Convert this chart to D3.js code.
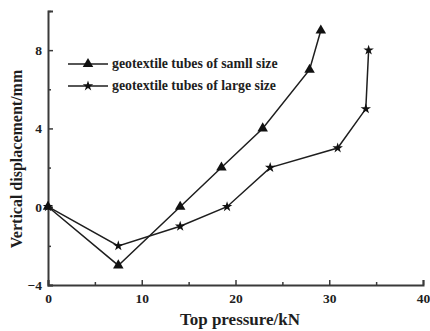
<!DOCTYPE html>
<html>
<head>
<meta charset="utf-8">
<script src="https://cdn.jsdelivr.net/npm/d3@7"></script>
<style>
  html, body { margin: 0; padding: 0; background: #fff; }
  svg { display: block; }
  text { font-family: "Liberation Serif", "Times New Roman", serif; font-weight: bold; }
</style>
</head>
<body>
<svg id="chart" width="430" height="331"></svg>
<script>
// Load (kN) vs. vertical displacement (mm) for the two tube sizes
const smallPressure = [0, 7.5, 14.1, 18.5, 22.9, 27.9, 29.1];
const smallDisp     = [0, -3, 0, 2, 4, 7, 9];
const largePressure = [0, 7.5, 14.1, 19.1, 23.7, 30.9, 33.9, 34.2];
const largeDisp     = [0, -2, -1, 0, 2, 3, 5, 8];
const seriesNames   = ["geotextile tubes of samll size", "geotextile tubes of large size"];
const xMajorTicks   = [0, 10, 20, 30, 40];
const xMinorTicks   = [5, 15, 25, 35];
const yMajorTicks   = [-4, 0, 4, 8];
const yMinorTicks   = [-2, 2, 6, 10];

const svg = d3.select("#chart");
const plotLeft = 48, plotRight = 423, plotTop = 11, plotBottom = 285;

const x = d3.scaleLinear().domain([0, 40]).range([plotLeft, plotRight]);
const y = d3.scaleLinear().domain([-4, 10]).range([plotBottom, plotTop]);

const ink = "#1e1e1e";
const axisInk = "#3a3a3a";

// Axes with inward ticks
const xAxis = svg.append("g").attr("transform", `translate(0,${plotBottom})`)
  .call(d3.axisBottom(x).tickValues(xMajorTicks).tickSize(-5).tickPadding(8).tickFormat(d3.format("d")));
const xMinor = svg.append("g").attr("transform", `translate(0,${plotBottom})`)
  .call(d3.axisBottom(x).tickValues(xMinorTicks).tickSize(-3).tickFormat(""));
const yAxis = svg.append("g").attr("transform", `translate(${plotLeft},0)`)
  .call(d3.axisLeft(y).tickValues(yMajorTicks).tickSize(-5).tickPadding(6).tickFormat(d3.format("d")));
const yMinor = svg.append("g").attr("transform", `translate(${plotLeft},0)`)
  .call(d3.axisLeft(y).tickValues(yMinorTicks).tickSize(-3).tickFormat(""));

[xAxis, xMinor, yAxis, yMinor].forEach(g => {
  g.select(".domain").attr("stroke", axisInk).attr("stroke-width", 2);
  g.selectAll(".tick line").attr("stroke", axisInk).attr("stroke-width", 1.5);
  g.selectAll(".tick text").attr("fill", ink)
    .style("font-family", "'Liberation Serif', serif").style("font-weight", "bold").style("font-size", "13.5px");
});
xMinor.select(".domain").remove();
yMinor.select(".domain").remove();

// Axis titles
svg.append("text")
  .attr("x", 240).attr("y", 325)
  .attr("text-anchor", "middle").attr("fill", ink)
  .style("font-size", "17px")
  .text("Top pressure/kN");
svg.append("text")
  .attr("transform", "translate(22,159) rotate(-90)")
  .attr("text-anchor", "middle").attr("fill", ink)
  .style("font-size", "16px")
  .text("Vertical displacement/mm");

const line = d3.line().x(d => x(d[0])).y(d => y(d[1]));
const smallPts = smallPressure.map((p, i) => [p, smallDisp[i]]);
const largePts = largePressure.map((p, i) => [p, largeDisp[i]]);

const tri = d3.symbol().type(d3.symbolTriangle).size(48);
const star = d3.symbol().type(d3.symbolStar).size(34);

function drawSeries(pts, sym) {
  svg.append("path").datum(pts).attr("d", line)
    .attr("fill", "none").attr("stroke", ink).attr("stroke-width", 1.5);
  svg.append("g").selectAll("path").data(pts).join("path")
    .attr("transform", d => `translate(${x(d[0])},${y(d[1])})`)
    .attr("d", sym).attr("fill", "#111");
}
drawSeries(smallPts, tri);
drawSeries(largePts, star);

// Legend
const legend = svg.append("g");
[tri, star].forEach((sym, i) => {
  const ly = 64 + i * 22;
  legend.append("line").attr("x1", 68).attr("x2", 108).attr("y1", ly).attr("y2", ly)
    .attr("stroke", ink).attr("stroke-width", 1.5);
  legend.append("path").attr("transform", `translate(88,${ly})`).attr("d", sym).attr("fill", "#111");
  legend.append("text").attr("x", 112).attr("y", ly + 4).attr("fill", ink)
    .style("font-size", "13.8px").text(seriesNames[i]);
});
</script>
</body>
</html>
